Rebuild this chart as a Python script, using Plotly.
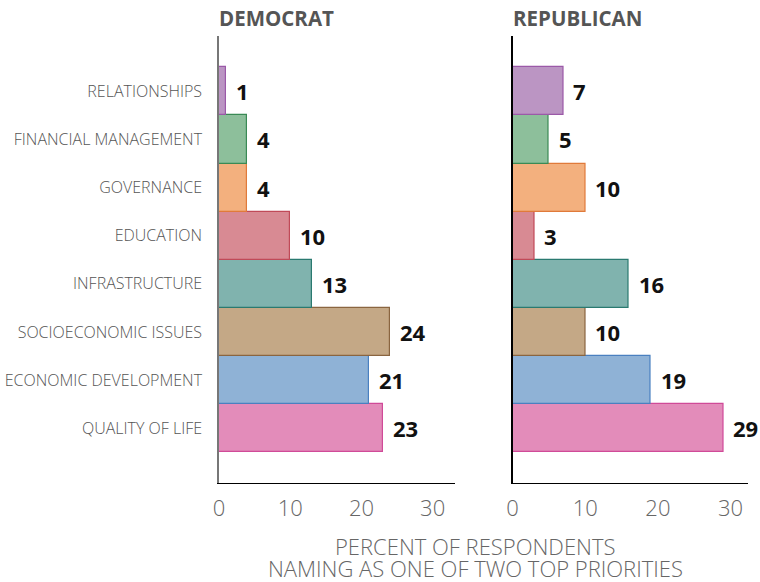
import plotly.graph_objects as go
from plotly.subplots import make_subplots

categories = ["QUALITY OF LIFE", "ECONOMIC DEVELOPMENT", "SOCIOECONOMIC ISSUES",
              "INFRASTRUCTURE", "EDUCATION", "GOVERNANCE",
              "FINANCIAL MANAGEMENT", "RELATIONSHIPS"]
democrat = [23, 21, 24, 13, 10, 4, 4, 1]
republican = [29, 19, 10, 16, 3, 10, 5, 7]
fill_colors = ["#e38cba", "#8fb2d6", "#c4a886", "#80b3ae",
               "#d88a93", "#f3b07e", "#8dbf9b", "#bb95c3"]
line_colors = ["#d04a98", "#4a80c0", "#8a6540", "#2a7a70",
               "#c04a58", "#e07a3a", "#3a8a55", "#9b59a8"]
panel_titles = ["DEMOCRAT", "REPUBLICAN"]
x_ticks = [0, 10, 20, 30]
x_title_lines = ["PERCENT OF RESPONDENTS", "NAMING AS ONE OF TWO TOP PRIORITIES"]

FONT = "Open Sans"

fig = make_subplots(rows=1, cols=2, shared_yaxes=False, horizontal_spacing=0.108)

for col, vals in ((1, democrat), (2, republican)):
    fig.add_trace(go.Bar(
        y=categories, x=vals, orientation="h",
        marker=dict(color=fill_colors, line=dict(color=line_colors, width=1.2)),
        width=1.0, showlegend=False, hoverinfo="x+y",
    ), row=1, col=col)
    xref = "x" if col == 1 else "x2"
    yref = "y" if col == 1 else "y2"
    for c, v in zip(categories, vals):
        fig.add_annotation(x=v, y=c, xref=xref, yref=yref, text=f"<b>{v}</b>",
                           showarrow=False, xanchor="left", xshift=8,
                           font=dict(family=FONT, size=22, color="#111"))

yrange = [-1.14, 8.15]
fig.update_yaxes(range=yrange, showgrid=False, zeroline=False, showline=True,
                 automargin=False,
                 ticks="outside", ticklen=12, tickcolor="rgba(0,0,0,0)",
                 tickfont=dict(family=FONT, size=16, color="#555", weight=300))
fig.update_yaxes(linecolor="#777", linewidth=1.5, row=1, col=1)
fig.update_yaxes(linecolor="#000", linewidth=1.5, showticklabels=False, row=1, col=2)
fig.update_xaxes(tickvals=x_ticks, showgrid=False, zeroline=False, automargin=False,
                 showline=True, linecolor="#000", linewidth=1.2,
                 ticks="outside", ticklen=5, tickcolor="rgba(0,0,0,0)",
                 tickfont=dict(family=FONT, size=22, color="#666", weight=300))
fig.update_xaxes(range=[0, 33.2], row=1, col=1)
fig.update_xaxes(range=[0, 32.4], row=1, col=2)

fig.update_layout(
    width=760, height=582,
    margin=dict(l=219, r=12, t=36, b=99),
    plot_bgcolor="white", paper_bgcolor="white",
    bargap=0,
    font=dict(family=FONT),
)
fig.layout.xaxis.domain = [0, 0.447]
fig.layout.xaxis2.domain = [0.555, 1.0]

for i, t in enumerate(panel_titles):
    fig.add_annotation(x=fig.layout["xaxis" if i == 0 else "xaxis2"].domain[0], y=1.0,
                       xref="paper", yref="paper", yshift=2, xshift=-2,
                       text=f"<b>{t}</b>", showarrow=False, xanchor="left", yanchor="bottom",
                       font=dict(family=FONT, size=20.5, color="#555"))

for k, line in enumerate(x_title_lines):
    fig.add_annotation(x=(475 - 219) / 529, y=0, xref="paper", yref="paper",
                       yshift=-(62 + 22 * k), text=line, showarrow=False,
                       xanchor="center", yanchor="middle", height=21,
                       font=dict(family=FONT, size=22, color="#666", weight=300))

fig.write_html("out.html", config={"displayModeBar": False},
               post_script="document.body.style.margin='0';document.body.style.padding='0';")
